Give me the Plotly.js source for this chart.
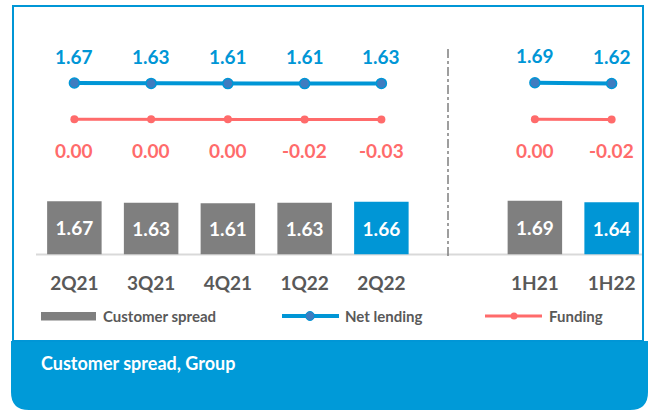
<!DOCTYPE html>
<html>
<head>
<meta charset="utf-8">
<script src="https://cdn.plot.ly/plotly-3.0.1.min.js"></script>
<style>html,body{margin:0;padding:0;background:#fff;}#chart{width:654px;height:410px;}</style>
</head>
<body>
<div id="chart"></div>
<script>
// ---- data ----
const quarterLabels = ['2Q21', '3Q21', '4Q21', '1Q22', '2Q22'];
const halfLabels = ['1H21', '1H22'];
const quarterSpread = [1.67, 1.63, 1.61, 1.63, 1.66];
const halfSpread = [1.69, 1.64];
const quarterNetLending = [1.67, 1.63, 1.61, 1.61, 1.63];
const halfNetLending = [1.69, 1.62];
const quarterFunding = [0.00, 0.00, 0.00, -0.02, -0.03];
const halfFunding = [0.00, -0.02];
const chartTitle = 'Customer spread, Group';
const legendNames = ['Customer spread', 'Net lending', 'Funding'];

// ---- styling ----
const BLUE = '#0096D6';
const MARKER_BLUE = '#3F7CC0';
const GRAY = '#7F7F7F';
const RED = '#FF6B6B';
const TEXT_GRAY = '#595959';
const FONT = 'Lato, "Open Sans", sans-serif';
const W = 654, H = 410;
const px = x => x / W;
const py = y => 1 - y / H;

// x slots: quarters 0..4, gap at 5, halves 6..7
const qx = quarterLabels.map((_, i) => i);
const hx = halfLabels.map((_, i) => quarterLabels.length + 1 + i);
const allX = qx.concat(hx);
const allLabels = quarterLabels.concat(halfLabels);
const allSpread = quarterSpread.concat(halfSpread);
const barColors = allLabels.map(l => (l === '2Q22' || l === '1H22') ? BLUE : GRAY);
const fmt = v => v.toFixed(2);

const nlMarker = {color: MARKER_BLUE, size: 10, line: {color: BLUE, width: 1.5}};
const fuMarker = {color: RED, size: 8};

const traces = [
  {
    type: 'bar', x: allX, y: allSpread, width: 0.71,
    marker: {color: barColors},
    text: allSpread.map(fmt), textposition: 'inside', insidetextanchor: 'middle',
    textfont: {family: FONT, size: 19, color: '#ffffff', weight: 'bold'},
    hoverinfo: 'skip', showlegend: false, yaxis: 'y'
  },
  {type: 'scatter', mode: 'lines+markers', x: qx, y: quarterNetLending, yaxis: 'y2',
    line: {color: BLUE, width: 4}, marker: nlMarker, showlegend: false, hoverinfo: 'skip'},
  {type: 'scatter', mode: 'lines+markers', x: hx, y: halfNetLending, yaxis: 'y2',
    line: {color: BLUE, width: 4}, marker: nlMarker, showlegend: false, hoverinfo: 'skip'},
  {type: 'scatter', mode: 'lines+markers', x: qx, y: quarterFunding, yaxis: 'y3',
    line: {color: RED, width: 3}, marker: fuMarker, showlegend: false, hoverinfo: 'skip'},
  {type: 'scatter', mode: 'lines+markers', x: hx, y: halfFunding, yaxis: 'y3',
    line: {color: RED, width: 3}, marker: fuMarker, showlegend: false, hoverinfo: 'skip'}
];

const annotations = [];
const allNL = quarterNetLending.concat(halfNetLending);
const allFU = quarterFunding.concat(halfFunding);
allX.forEach((x, i) => {
  annotations.push({x: x, y: allNL[i], xref: 'x', yref: 'y2', text: fmt(allNL[i]), showarrow: false, yshift: 27,
    font: {family: FONT, size: 19, color: BLUE, weight: 'bold'}});
  annotations.push({x: x, y: allFU[i], xref: 'x', yref: 'y3', text: fmt(allFU[i]), showarrow: false, yshift: -31,
    font: {family: FONT, size: 19, color: RED, weight: 'bold'}});
});
// title in band
annotations.push({x: px(39), y: py(363), xref: 'paper', yref: 'paper', xanchor: 'left', yanchor: 'middle',
  text: chartTitle, showarrow: false, font: {family: FONT, size: 18, color: '#ffffff', weight: 'bold'}});
// legend texts
const legendTextX = [101, 343, 547];
legendNames.forEach((n, i) => {
  annotations.push({x: px(legendTextX[i]), y: py(316), xref: 'paper', yref: 'paper', xanchor: 'left', yanchor: 'middle',
    text: n, showarrow: false, font: {family: FONT, size: 15, color: TEXT_GRAY, weight: 'bold'}});
});

const shapes = [
  // blue band with rounded bottom corners
  {type: 'path', xref: 'paper', yref: 'paper', layer: 'below',
    path: `M ${px(11)},${py(341)} L ${px(648)},${py(341)} L ${px(648)},${py(392)} Q ${px(648)},${py(410)} ${px(630)},${py(410)} L ${px(29)},${py(410)} Q ${px(11)},${py(410)} ${px(11)},${py(392)} Z`,
    fillcolor: '#009AD8', line: {width: 0}},
  // frame
  {type: 'rect', xref: 'paper', yref: 'paper', layer: 'below',
    x0: px(13), x1: px(643), y0: py(341), y1: py(6), line: {color: BLUE, width: 2}},
  // baseline
  {type: 'line', xref: 'paper', yref: 'paper', layer: 'below',
    x0: px(36), x1: px(642), y0: py(254.5), y1: py(254.5), line: {color: '#D9D9D9', width: 2}},
  // separator
  {type: 'line', xref: 'paper', yref: 'paper',
    x0: px(448), x1: px(448), y0: py(49), y1: py(258), line: {color: GRAY, width: 1.5, dash: 'dashdot'}},
  // legend swatches
  {type: 'rect', xref: 'paper', yref: 'paper', x0: px(41), x1: px(96), y0: py(320.5), y1: py(312), fillcolor: GRAY, line: {width: 0}},
  {type: 'line', xref: 'paper', yref: 'paper', x0: px(282), x1: px(339), y0: py(316), y1: py(316), line: {color: BLUE, width: 4}},
  {type: 'circle', xref: 'paper', yref: 'paper', x0: px(305.5), x1: px(314.5), y0: py(320.5), y1: py(311.5), fillcolor: MARKER_BLUE, line: {color: BLUE, width: 1}},
  {type: 'line', xref: 'paper', yref: 'paper', x0: px(485), x1: px(542), y0: py(316), y1: py(316), line: {color: RED, width: 3}},
  {type: 'circle', xref: 'paper', yref: 'paper', x0: px(510.5), x1: px(517.5), y0: py(319.5), y1: py(312.5), fillcolor: RED, line: {width: 0}}
];

const layout = {
  width: W, height: H,
  margin: {l: 0, r: 0, t: 0, b: 0},
  paper_bgcolor: '#ffffff', plot_bgcolor: 'rgba(0,0,0,0)',
  showlegend: false,
  xaxis: {
    domain: [px(36), px(650)], range: [-0.5, 7.5],
    tickmode: 'array', tickvals: allX, ticktext: allLabels,
    ticks: 'outside', ticklen: 12, tickcolor: 'rgba(0,0,0,0)',
    tickfont: {family: FONT, size: 19, color: TEXT_GRAY, weight: 'bold'},
    showgrid: false, zeroline: false, showline: false, fixedrange: true
  },
  yaxis: {domain: [py(254.5), 1], range: [0, 8.0], visible: false, fixedrange: true},
  yaxis2: {overlaying: 'y', range: [-15.48, 9.97], visible: false, fixedrange: true},
  yaxis3: {overlaying: 'y', range: [-13.52, 11.93], visible: false, fixedrange: true},
  shapes: shapes,
  annotations: annotations,
  font: {family: FONT}
};

Plotly.newPlot('chart', traces, layout, {displayModeBar: false, staticPlot: true});
</script>
</body>
</html>
